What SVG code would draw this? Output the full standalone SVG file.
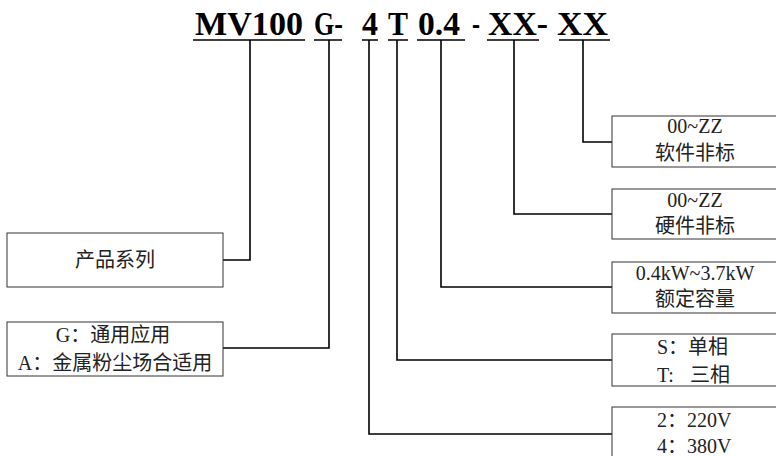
<svg xmlns="http://www.w3.org/2000/svg" width="776" height="456" viewBox="0 0 776 456">
<style>
.title{font-family:"Liberation Serif","Times New Roman",serif;font-weight:bold;font-size:33px;fill:#000}
.ul{stroke:#000;stroke-width:1.3;fill:none}
.conn{stroke:#000;stroke-width:1.6;fill:none}
.box{fill:#fff;stroke:#333;stroke-width:1}
.t{font-family:"Liberation Serif","Noto Sans CJK SC",serif;font-size:20px;fill:#222}
.c{text-anchor:middle}
</style>
<rect width="776" height="456" fill="#fff"/>
<g id="title">
<text class="title" x="195" y="35" textLength="108" lengthAdjust="spacingAndGlyphs">MV100</text>
<text class="title" x="314" y="35" textLength="29" lengthAdjust="spacingAndGlyphs">G-</text>
<text class="title" x="362" y="35" textLength="16" lengthAdjust="spacingAndGlyphs">4</text>
<text class="title" x="388" y="35" textLength="20" lengthAdjust="spacingAndGlyphs">T</text>
<text class="title" x="418" y="35" textLength="42" lengthAdjust="spacingAndGlyphs">0.4</text>
<text class="title" x="472" y="35" textLength="8" lengthAdjust="spacingAndGlyphs">-</text>
<text class="title" x="488" y="35" textLength="60" lengthAdjust="spacingAndGlyphs">XX-</text>
<text class="title" x="557" y="35" textLength="51" lengthAdjust="spacingAndGlyphs">XX</text>
<path class="ul" d="M193 40H305M314 40H342M362 40H378M388 40H408M417 40H465M487 40H539M559 40H610"/>
</g>
<g id="connectors">
<path class="conn" d="M250 40V260H223"/>
<path class="conn" d="M329 40V348H223"/>
<path class="conn" d="M369 40V434H612"/>
<path class="conn" d="M397 40V360H612"/>
<path class="conn" d="M441 40V287H612"/>
<path class="conn" d="M514 40V214H612"/>
<path class="conn" d="M583 40V142H612"/>
</g>
<g id="series">
<rect class="box" x="7" y="233" width="216" height="54"/>
<text class="t c" x="115" y="267">产品系列</text>
</g>
<g id="application">
<rect class="box" x="7" y="322" width="216" height="54"/>
<text class="t c" x="113" y="342">G：通用应用</text>
<text class="t c" x="115" y="370">A：金属粉尘场合适用</text>
</g>
<g id="software">
<rect class="box" x="612" y="116" width="166" height="51"/>
<text class="t c" x="695" y="133">00~ZZ</text>
<text class="t c" x="695" y="160">软件非标</text>
</g>
<g id="hardware">
<rect class="box" x="612" y="189" width="166" height="50"/>
<text class="t c" x="695" y="207">00~ZZ</text>
<text class="t c" x="695" y="233">硬件非标</text>
</g>
<g id="capacity">
<rect class="box" x="612" y="262" width="166" height="51"/>
<text class="t c" x="695" y="280">0.4kW~3.7kW</text>
<text class="t c" x="695" y="306">额定容量</text>
</g>
<g id="phase">
<rect class="box" x="612" y="334" width="166" height="52"/>
<text class="t" x="657" y="354">S：单相</text>
<text class="t" x="657" y="382">T:<tspan x="690">三相</tspan></text>
</g>
<g id="voltage">
<rect class="box" x="612" y="407" width="166" height="60"/>
<text class="t" x="657" y="427">2：220V</text>
<text class="t" x="657" y="453">4：380V</text>
</g>
</svg>
